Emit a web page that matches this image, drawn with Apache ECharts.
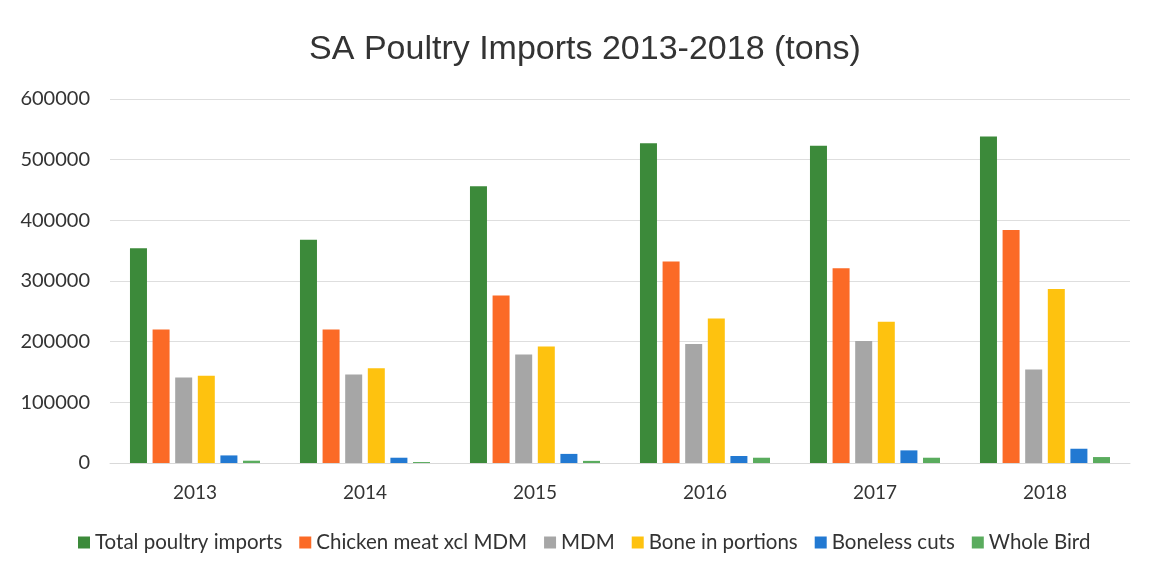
<!DOCTYPE html>
<html>
<head>
<meta charset="utf-8">
<title>SA Poultry Imports</title>
<script src="https://cdn.jsdelivr.net/npm/echarts@6/dist/echarts.min.js"></script>
<style>
    html, body { margin: 0; padding: 0; background: #fff; }
    #chart { width: 1150px; height: 574px; }
</style>
</head>
<body>
<div id="chart"></div>
<script>
'use strict';

// 年份
var years = ['2013', '2014', '2015', '2016', '2017', '2018'];
var yTicks = [0, 100000, 200000, 300000, 400000, 500000, 600000];

// tons
var totalImports = [354000, 368000, 456000, 527000, 523000, 538000];
var chickenMeat = [220000, 220000, 276000, 332000, 321000, 384000];
var mdm = [141000, 146000, 179000, 196000, 201000, 154000];
var boneIn = [144000, 156000, 192000, 238000, 233000, 287000];
var boneless = [12500, 8700, 15000, 11500, 20800, 23500];
var wholeBird = [3800, 1600, 3500, 8700, 8700, 9800];

var seriesNames = ['Total poultry imports', 'Chicken meat xcl MDM', 'MDM', 'Bone in portions', 'Boneless cuts', 'Whole Bird'];
var seriesData = [totalImports, chickenMeat, mdm, boneIn, boneless, wholeBird];
var colors = ['#3c8a3a', '#fb6a26', '#a6a6a6', '#fec20f', '#2279d2', '#5aac5e'];

var myChart = echarts.init(document.getElementById('chart'));

var series = seriesNames.map(function (name, i) {
    return {
        name: name,
        type: 'bar',
        data: seriesData[i],
        barWidth: 17,
        barGap: '33%',
        itemStyle: {color: colors[i]}
    };
});

var option = {
    backgroundColor: '#fff',
    animation: false,
    color: colors,
    title: {
        text: 'SA Poultry Imports 2013-2018 (tons)',
        left: 580,
        textAlign: 'center',
        top: 28,
        textStyle: {
            fontFamily: 'Liberation Sans',
            fontSize: 34,
            fontWeight: 'normal',
            color: '#333'
        }
    },
    legend: {
        bottom: 16,
        left: 73,
        itemWidth: 12,
        itemHeight: 12,
        itemGap: 17,
        icon: 'rect',
        textStyle: {fontFamily: 'Lato', fontSize: 20.5, color: '#333'},
        data: seriesNames
    },
    grid: {left: 110, right: 20, top: 99, bottom: 111, containLabel: false},
    xAxis: {
        type: 'category',
        data: years,
        axisLine: {show: true, lineStyle: {color: '#d9d9d9'}},
        axisTick: {show: false},
        axisLabel: {fontFamily: 'Lato', fontSize: 19, color: '#333', margin: 20}
    },
    yAxis: {
        type: 'value',
        min: yTicks[0],
        max: yTicks[yTicks.length - 1],
        interval: yTicks[1] - yTicks[0],
        axisLine: {show: false},
        axisTick: {show: false},
        axisLabel: {
            fontFamily: 'Lato', fontSize: 20, color: '#333', margin: 20,
            formatter: function (v) { return String(v); }
        },
        splitLine: {lineStyle: {color: '#dedede'}}
    },
    series: series
};

myChart.setOption(option);
</script>
</body>
</html>
